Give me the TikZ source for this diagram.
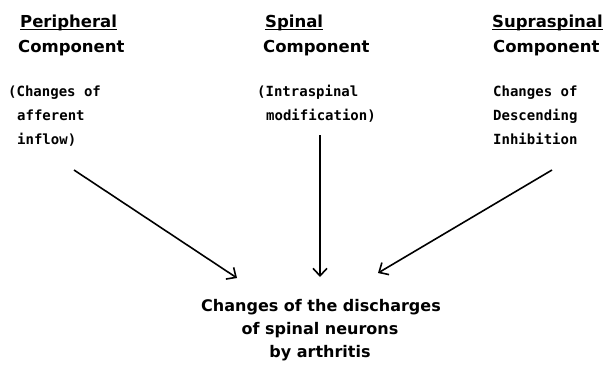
\documentclass[tikz,border=0pt]{standalone}
\usepackage{fontspec}
\setmainfont{DejaVu Sans}
\newfontfamily\headfont{DejaVu Sans}
\newfontfamily\monofont{DejaVu Sans Mono}
\usetikzlibrary{arrows.meta}
\begin{document}
\begin{tikzpicture}[x=1pt,y=-1pt,
  head/.style={inner sep=0pt,anchor=base west,font=\headfont\bfseries\fontsize{16.5}{20}\selectfont},
  mono/.style={inner sep=0pt,anchor=base west,font=\monofont\bfseries\fontsize{14}{17}\selectfont},
  result/.style={inner sep=0pt,anchor=base,font=\headfont\bfseries\fontsize{16}{20}\selectfont},
  uline/.style={line width=1.6pt},
  conn/.style={line width=1.6pt,-{Straight Barb[length=7.5pt,width=14pt,line width=1.6pt]}}]
\useasboundingbox (0,0) rectangle (604,365);
% Peripheral column
\node[head] (ph) at (20,27) {Peripheral};
\node[head] (pc) at (18,52) {Component};
\node[mono] (pt1) at (8,96) {(Changes of};
\node[mono] (pt2) at (17,120) {afferent};
\node[mono] (pt3) at (17,144) {inflow)};
% Spinal column
\node[head] (sh) at (265,27) {Spinal};
\node[head] (sc) at (263,52) {Component};
\node[mono] (st1) at (257,96) {(Intraspinal};
\node[mono] (st2) at (266,120) {modification)};
% Supraspinal column
\node[head] (uh) at (492,27) {Supraspinal};
\node[head] (uc) at (493,52) {Component};
\node[mono] (ut1) at (493,96) {Changes of};
\node[mono] (ut2) at (493,120) {Descending};
\node[mono] (ut3) at (493,144) {Inhibition};
% underlines
\foreach \n in {ph,sh,uh}
  \draw[uline] ([yshift=-2.5pt]\n.base west) -- ([yshift=-2.5pt]\n.base east);
% result
\node[result] (r1) at (321,311) {Changes of the discharges};
\node[result] (r2) at (320,334) {of spinal neurons};
\node[result] (r3) at (320,357) {by arthritis};
% connectors
\coordinate (a1s) at (74,170);
\coordinate (a1e) at (237,278);
\coordinate (a2s) at (320,135);
\coordinate (a2e) at (320,277);
\coordinate (a3s) at (552,170);
\coordinate (a3e) at (378,273);
\draw[conn] (a1s) -- (a1e);
\draw[conn] (a2s) -- (a2e);
\draw[conn] (a3s) -- (a3e);
\end{tikzpicture}
\end{document}
